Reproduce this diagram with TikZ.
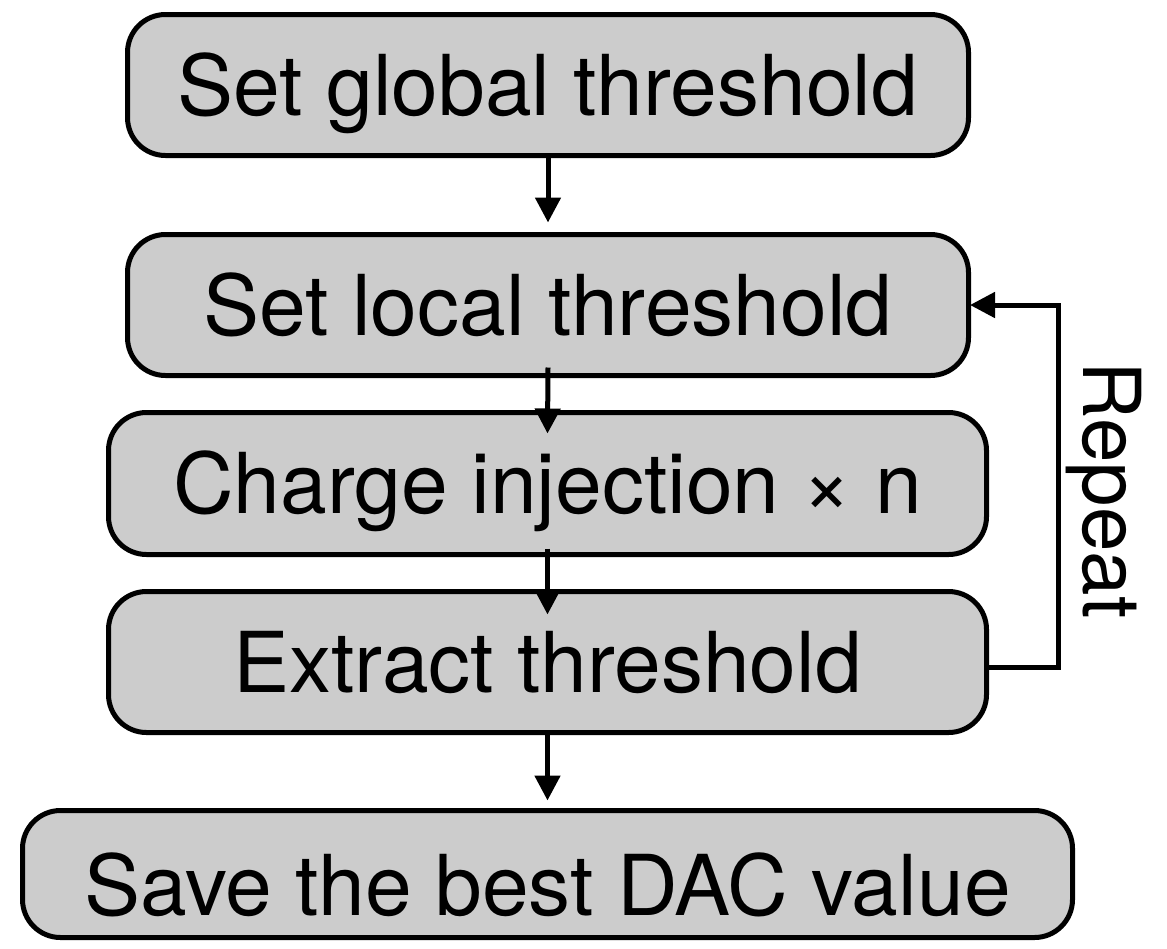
\documentclass[tikz,border=0pt]{standalone}
\usepackage{fontspec}
\setmainfont{TeX Gyre Heros}
\usetikzlibrary{arrows.meta}
\definecolor{boxgray}{RGB}{204,204,204}
\tikzset{
  stepbox/.style={draw=black, line width=5pt, fill=boxgray, rounded corners=38pt,
    rectangle, inner sep=0pt, text height=60pt, text depth=0pt,
    font=\fontsize{84}{90}\selectfont},
  flowarrow/.style={line width=5pt, -{Triangle[length=25pt,width=25pt]}},
}
\begin{document}
\begin{tikzpicture}[x=1pt,y=-1pt]
  \useasboundingbox (0,0) rectangle (1167,948);

  % process steps
  \node[stepbox, minimum width=841pt, minimum height=141pt] (b1) at (548,85) {Set global threshold};
  \node[stepbox, minimum width=841pt, minimum height=141pt] (b2) at (548,305) {Set local threshold};
  \node[stepbox, minimum width=878pt, minimum height=142pt] (b3) at (547.5,483.5) {Charge injection × n};
  \node[stepbox, minimum width=878pt, minimum height=141pt] (b4) at (547.5,662) {Extract threshold};
  \node[stepbox, minimum width=1050pt, minimum height=127pt, text height=82pt] (b5) at (547.5,874) {Save the best DAC value};

  % forward flow
  \draw[flowarrow] (b1.south) -- ([yshift=9.5pt]b2.north);
  \draw[flowarrow] ([yshift=10.5pt]b2.south) -- ([yshift=-23.5pt]b3.north);
  \draw[flowarrow] ([yshift=8.5pt]b3.south) -- ([yshift=-25.5pt]b4.north);
  \draw[flowarrow] (b4.south) -- ([yshift=7.5pt]b5.north);

  % repeat loop
  \coordinate (loop) at (1058,0);
  \draw[flowarrow, shorten >=-1pt] ([yshift=-5pt]b4.east) -| (loop |- b2.east) -- (b2.east);
  \node[rotate=-90, inner sep=0pt, text height=60pt, text depth=0pt,
        font=\fontsize{80}{90}\selectfont] (rep) at (1113,490) {Repeat};
\end{tikzpicture}
\end{document}
